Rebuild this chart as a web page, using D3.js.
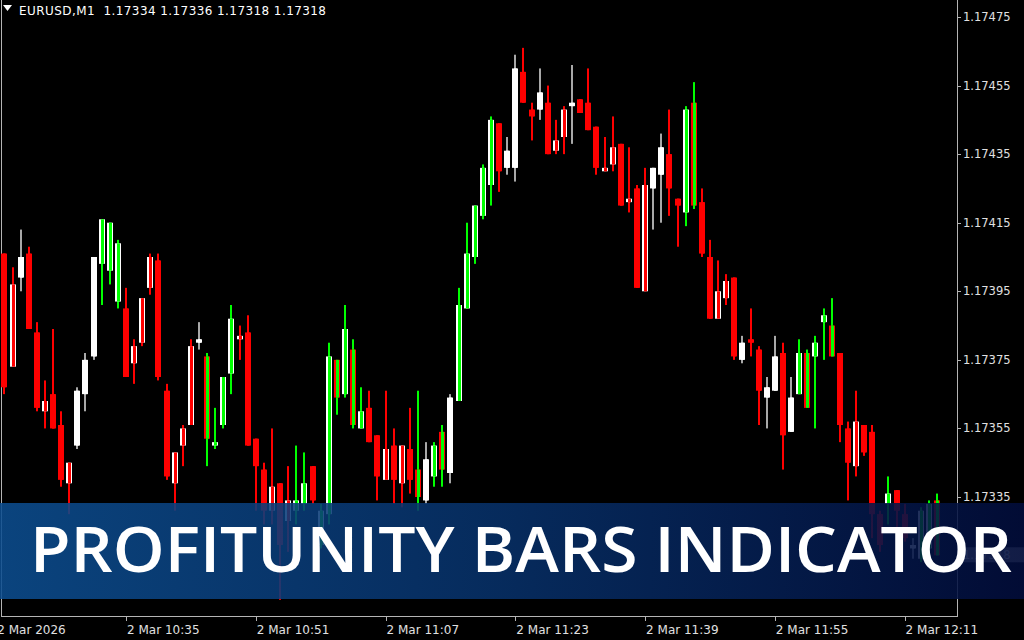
<!DOCTYPE html>
<html lang="en">
<head>
<meta charset="utf-8">
<title>Profitunity Bars Indicator</title>
<script src="https://d3js.org/d3.v7.min.js"></script>
<style>
  html, body { margin: 0; padding: 0; background: #000; overflow: hidden; }
  svg { display: block; }
</style>
</head>
<body>
<script>
// EURUSD M1, 2 Mar 10:20 .. 12:15, one bar per minute
var opens = [
  1.17406,1.17373,1.17399,1.17406,1.17383,1.17360,1.17365,1.17356,1.17339,1.17350,
  1.17365,1.17376,1.17403,1.17401,1.17392,1.17390,1.17374,1.17380,1.17396,1.17404,
  1.17366,1.17339,1.17350,1.17356,1.17380,1.17376,1.17350,1.17356,1.17371,1.17381,
  1.17383,1.17352,1.17343,1.17331,1.17339,1.17328,1.17331,1.17333,1.17344,1.17321,
  1.17330,1.17375,1.17365,1.17378,1.17355,1.17361,1.17353,1.17340,1.17350,1.17339,
  1.17349,1.17343,1.17334,1.17341,1.17354,1.17342,1.17363,1.17390,1.17405,1.17417,
  1.17426,1.17444,1.17431,1.17431,1.17459,1.17448,1.17448,1.17450,1.17436,1.17440,
  1.17449,1.17451,1.17450,1.17443,1.17430,1.17432,1.17438,1.17421,1.17425,1.17395,
  1.17425,1.17429,1.17435,1.17422,1.17418,1.17450,1.17421,1.17405,1.17387,1.17393,
  1.17399,1.17375,1.17381,1.17378,1.17364,1.17366,1.17377,1.17354,1.17365,1.17377,
  1.17376,1.17386,1.17385,1.17377,1.17355,1.17344,1.17356,1.17354,1.17330,1.17333,
  1.17337,1.17330,1.17320,1.17317,1.17320,1.17334];
var highs = [
  1.17406,1.17402,1.17413,1.17408,1.17386,1.17369,1.17384,1.17360,1.17345,1.17367,
  1.17377,1.17405,1.17416,1.17415,1.17410,1.17396,1.17381,1.17393,1.17406,1.17406,
  1.17368,1.17348,1.17356,1.17381,1.17386,1.17377,1.17361,1.17370,1.17391,1.17385,
  1.17388,1.17352,1.17345,1.17355,1.17339,1.17344,1.17350,1.17348,1.17344,1.17333,
  1.17380,1.17375,1.17391,1.17381,1.17367,1.17366,1.17353,1.17366,1.17355,1.17350,
  1.17361,1.17366,1.17351,1.17351,1.17356,1.17365,1.17396,1.17415,1.17420,1.17432,
  1.17446,1.17444,1.17440,1.17464,1.17466,1.17450,1.17460,1.17455,1.17445,1.17449,
  1.17461,1.17451,1.17460,1.17443,1.17440,1.17446,1.17438,1.17437,1.17426,1.17431,
  1.17431,1.17441,1.17448,1.17422,1.17449,1.17456,1.17425,1.17410,1.17404,1.17400,
  1.17399,1.17382,1.17390,1.17379,1.17370,1.17382,1.17380,1.17370,1.17381,1.17378,
  1.17382,1.17390,1.17393,1.17377,1.17357,1.17366,1.17356,1.17356,1.17331,1.17341,
  1.17337,1.17333,1.17323,1.17332,1.17334,1.17336];
var lows = [
  1.17365,1.17373,1.17395,1.17384,1.17360,1.17355,1.17355,1.17338,1.17330,1.17349,
  1.17360,1.17375,1.17391,1.17397,1.17390,1.17370,1.17368,1.17379,1.17394,1.17369,
  1.17340,1.17331,1.17344,1.17356,1.17378,1.17344,1.17349,1.17355,1.17365,1.17375,
  1.17350,1.17331,1.17327,1.17327,1.17305,1.17319,1.17327,1.17331,1.17333,1.17320,
  1.17327,1.17359,1.17364,1.17355,1.17355,1.17351,1.17334,1.17340,1.17333,1.17332,
  1.17336,1.17331,1.17333,1.17338,1.17338,1.17339,1.17363,1.17390,1.17403,1.17416,
  1.17420,1.17424,1.17429,1.17427,1.17450,1.17439,1.17445,1.17435,1.17435,1.17435,
  1.17438,1.17447,1.17442,1.17429,1.17430,1.17430,1.17420,1.17418,1.17396,1.17395,
  1.17413,1.17415,1.17417,1.17408,1.17414,1.17419,1.17405,1.17387,1.17387,1.17391,
  1.17375,1.17374,1.17376,1.17356,1.17355,1.17366,1.17343,1.17354,1.17365,1.17361,
  1.17355,1.17375,1.17376,1.17351,1.17334,1.17341,1.17347,1.17323,1.17319,1.17327,
  1.17326,1.17322,1.17317,1.17316,1.17319,1.17318];
var closes = [
  1.17367,1.17397,1.17405,1.17384,1.17361,1.17363,1.17355,1.17340,1.17345,1.17366,
  1.17375,1.17405,1.17416,1.17415,1.17409,1.17370,1.17379,1.17393,1.17405,1.17370,
  1.17341,1.17348,1.17355,1.17379,1.17381,1.17352,1.17351,1.17370,1.17387,1.17382,
  1.17350,1.17344,1.17331,1.17338,1.17321,1.17334,1.17334,1.17339,1.17334,1.17331,
  1.17376,1.17364,1.17384,1.17356,1.17360,1.17351,1.17341,1.17349,1.17340,1.17350,
  1.17340,1.17335,1.17346,1.17350,1.17343,1.17364,1.17391,1.17406,1.17420,1.17431,
  1.17445,1.17430,1.17436,1.17460,1.17450,1.17446,1.17453,1.17435,1.17439,1.17448,
  1.17450,1.17447,1.17442,1.17431,1.17431,1.17437,1.17420,1.17422,1.17396,1.17426,
  1.17431,1.17437,1.17425,1.17420,1.17448,1.17420,1.17406,1.17387,1.17395,1.17398,
  1.17376,1.17380,1.17380,1.17366,1.17367,1.17376,1.17353,1.17364,1.17377,1.17361,
  1.17380,1.17388,1.17376,1.17356,1.17345,1.17357,1.17348,1.17330,1.17321,1.17336,
  1.17331,1.17323,1.17321,1.17331,1.17333,1.17318];
// profitunity zone of each bar: r = red, g = green, w = neutral
var zones = [
  "r","r","w","r","r","r","r","r","r","w",
  "w","w","g","g","g","r","r","r","r","r",
  "r","r","r","r","w","g","g","g","g","r",
  "r","r","r","r","r","r","g","g","r","g",
  "g","g","g","g","g","r","r","r","r","r",
  "r","g","w","g","g","w","g","g","g","g",
  "g","r","w","w","r","r","w","r","r","r",
  "w","r","r","r","r","r","r","r","r","r",
  "w","w","r","r","g","g","r","r","r","r",
  "r","w","r","r","w","w","r","w","g","g",
  "g","g","g","r","r","r","r","r","r","g",
  "r","r","w","g","g","g"];

var timeLabels = ["2 Mar 2026","2 Mar 10:35","2 Mar 10:51","2 Mar 11:07","2 Mar 11:23","2 Mar 11:39","2 Mar 11:55","2 Mar 12:11"];
var timeLabelBars = [-1, 15, 31, 47, 63, 79, 95, 111];
var priceTicks = [1.17335, 1.17355, 1.17375, 1.17395, 1.17415, 1.17435, 1.17455, 1.17475];

var W = 1024, H = 640;
var plotRight = 957, plotBottom = 616;
var zoneColor = {r: "#ff0000", g: "#00ff00", w: "#ffffff"};
var wickColor = {r: "#ff0000", g: "#00ff00", w: "#a8a8a8"};
var axisFont = "Tahoma, 'DejaVu Sans', sans-serif";

var svg = d3.select("body").append("svg")
  .attr("width", W)
  .attr("height", H);

svg.append("rect").attr("width", W).attr("height", H).attr("fill", "#000");

var x = d3.scaleLinear().domain([0, opens.length - 1]).range([4.4, 4.4 + (opens.length - 1) * 8.11]);
var y = d3.scaleLinear().domain([1.17335, 1.17475]).range([497, 17]);

// frame
svg.append("line").attr("x1", 1.5).attr("x2", 1.5).attr("y1", 0).attr("y2", plotBottom)
  .attr("stroke", "#b4b4b4").attr("stroke-width", 1);
svg.append("line").attr("x1", plotRight + 0.5).attr("x2", plotRight + 0.5).attr("y1", 0).attr("y2", plotBottom + 0.5)
  .attr("stroke", "#b4b4b4").attr("stroke-width", 1);
svg.append("line").attr("x1", 1).attr("x2", plotRight + 1).attr("y1", plotBottom + 0.5).attr("y2", plotBottom + 0.5)
  .attr("stroke", "#b4b4b4").attr("stroke-width", 1);

// candles
var bars = svg.append("g").attr("id", "bars")
  .selectAll("g")
  .data(d3.range(opens.length))
  .enter().append("g");

bars.append("rect")
  .attr("x", i => Math.round(x(i)) - 1)
  .attr("width", 2)
  .attr("y", i => y(highs[i]))
  .attr("height", i => Math.max(1, y(lows[i]) - y(highs[i])))
  .attr("fill", i => wickColor[zones[i]]);

bars.append("rect")
  .attr("x", i => Math.round(x(i)) - 3)
  .attr("width", 6)
  .attr("y", i => y(Math.max(opens[i], closes[i])))
  .attr("height", i => Math.max(1.5, Math.abs(y(opens[i]) - y(closes[i]))))
  .attr("fill", i => closes[i] > opens[i] ? "#ffffff" : "#ff0000");

bars.append("rect")
  .attr("x", i => Math.round(x(i)) - 1)
  .attr("width", 3)
  .attr("y", i => y(Math.max(opens[i], closes[i])))
  .attr("height", i => Math.max(1.5, Math.abs(y(opens[i]) - y(closes[i]))))
  .attr("fill", i => zoneColor[zones[i]]);

// price axis
var pAxis = svg.append("g").attr("id", "price-axis");
pAxis.selectAll("line")
  .data(priceTicks)
  .enter().append("line")
  .attr("x1", plotRight).attr("x2", plotRight + 4)
  .attr("y1", d => Math.round(y(d)) + 0.5).attr("y2", d => Math.round(y(d)) + 0.5)
  .attr("stroke", "#b4b4b4");
pAxis.selectAll("text")
  .data(priceTicks)
  .enter().append("text")
  .attr("x", plotRight + 6)
  .attr("y", d => y(d) + 4)
  .attr("font-family", axisFont)
  .attr("font-size", "11.5px")
  .attr("fill", "#e0e0e0")
  .text(d => d.toFixed(5));

// current price tag (under the banner)
var last = closes[closes.length - 1];
svg.append("rect")
  .attr("x", plotRight + 1).attr("y", y(last) - 8)
  .attr("width", W - plotRight).attr("height", 15)
  .attr("fill", "#8c8c8c");
svg.append("text")
  .attr("x", plotRight + 6).attr("y", y(last) + 4)
  .attr("font-family", axisFont).attr("font-size", "11.5px")
  .attr("fill", "#ffffff")
  .text(last.toFixed(5));

// time axis
var tAxis = svg.append("g").attr("id", "time-axis");
tAxis.selectAll("line")
  .data(timeLabelBars.slice(1))
  .enter().append("line")
  .attr("x1", d => Math.round(x(d)) + 0.5).attr("x2", d => Math.round(x(d)) + 0.5)
  .attr("y1", plotBottom).attr("y2", plotBottom + 5)
  .attr("stroke", "#b4b4b4");
tAxis.selectAll("text")
  .data(timeLabels)
  .enter().append("text")
  .attr("x", (d, i) => x(timeLabelBars[i]) + 1)
  .attr("y", 634)
  .attr("font-family", axisFont)
  .attr("font-size", "12px")
  .attr("fill", "#e0e0e0")
  .text(d => d);

// banner
var defs = svg.append("defs");
var grad = defs.append("linearGradient").attr("id", "bannerGrad")
  .attr("x1", "0%").attr("x2", "100%").attr("y1", "0%").attr("y2", "0%");
grad.append("stop").attr("offset", "0%").attr("stop-color", "#0c4d8f");
grad.append("stop").attr("offset", "50%").attr("stop-color", "#073068");
grad.append("stop").attr("offset", "100%").attr("stop-color", "#020d3c");

svg.append("rect")
  .attr("x", 0).attr("y", 503)
  .attr("width", W).attr("height", 96)
  .attr("fill", "url(#bannerGrad)")
  .attr("opacity", 0.88);

svg.append("text")
  .attr("x", 30).attr("y", 572)
  .attr("font-family", "'Open Sans', 'Noto Sans', sans-serif")
  .attr("font-weight", 600)
  .attr("font-size", "63px")
  .attr("fill", "#ffffff")
  .attr("textLength", 982)
  .attr("lengthAdjust", "spacingAndGlyphs")
  .text("PROFITUNITY BARS INDICATOR");

// header
svg.append("path")
  .attr("d", "M3,5 L12,5 L7.5,11 Z")
  .attr("fill", "#ffffff");
svg.append("text")
  .attr("x", 19).attr("y", 15)
  .attr("font-family", axisFont)
  .attr("font-size", "12px")
  .attr("fill", "#ffffff")
  .attr("textLength", 307)
  .attr("xml:space", "preserve")
  .text("EURUSD,M1  " + [opens, highs, lows, closes].map(a => a[a.length - 1].toFixed(5)).join(" "));
</script>
</body>
</html>
